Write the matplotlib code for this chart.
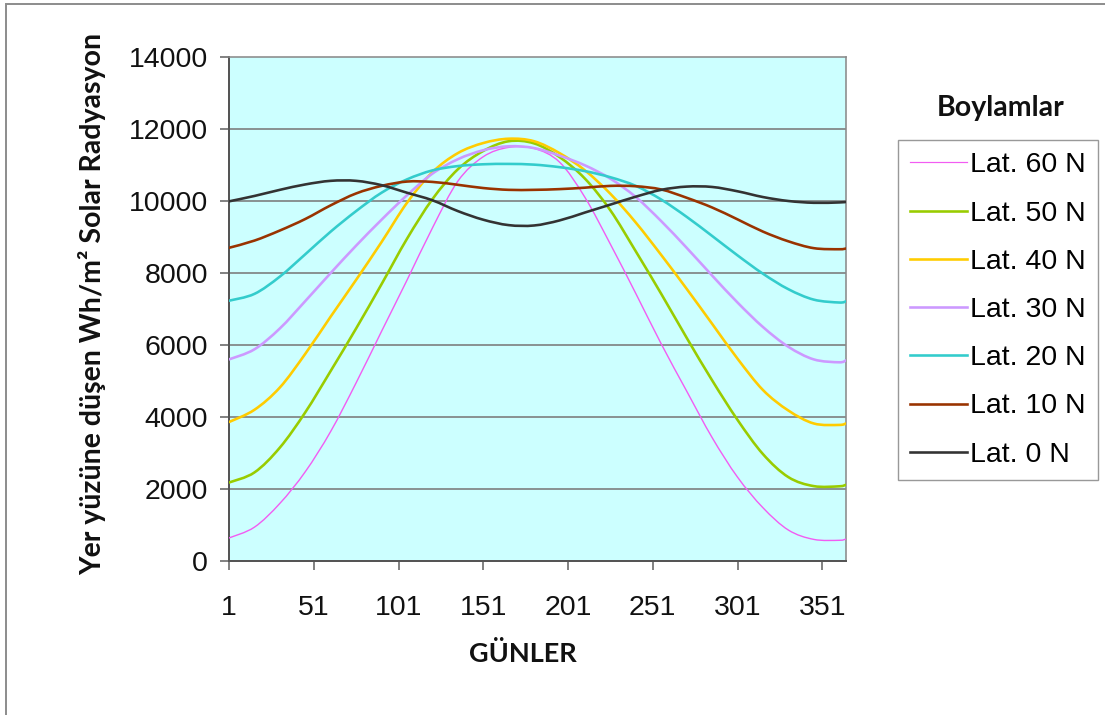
import matplotlib
matplotlib.use("Agg")
import matplotlib.pyplot as plt
from matplotlib.patches import Rectangle, PathPatch
from matplotlib.path import Path
from matplotlib.lines import Line2D

# Day of year samples
days = [1, 16, 31, 46, 61, 76, 91, 106, 121, 136, 151, 166, 181,
        196, 211, 226, 241, 256, 271, 286, 301, 316, 331, 346, 361, 365]

# Daily solar radiation (Wh/m2) per latitude
lat60 = [640, 940, 1600, 2480, 3600, 4950, 6380, 7800, 9250, 10550, 11230, 11490, 11460,
         11080, 10100, 8800, 7430, 6030, 4720, 3430, 2330, 1480, 860, 600, 575, 610]
lat50 = [2180, 2460, 3150, 4130, 5280, 6460, 7690, 8950, 10050, 10880, 11390, 11660, 11600,
         11220, 10620, 9740, 8600, 7420, 6200, 5020, 3920, 2970, 2330, 2080, 2075, 2117]
lat40 = [3860, 4200, 4820, 5755, 6790, 7810, 8860, 9950, 10800, 11330, 11610, 11730, 11660,
         11330, 10850, 10200, 9400, 8500, 7560, 6590, 5620, 4750, 4180, 3820, 3780, 3822]
lat30 = [5600, 5880, 6460, 7220, 8000, 8760, 9480, 10160, 10760, 11160, 11410, 11520, 11470,
         11260, 10990, 10620, 10110, 9440, 8700, 7930, 7180, 6500, 5950, 5600, 5520, 5574]
lat20 = [7230, 7420, 7900, 8520, 9150, 9720, 10230, 10600, 10850, 10970, 11020, 11030, 11010,
         10940, 10830, 10660, 10420, 10040, 9560, 9030, 8490, 7980, 7550, 7260, 7180, 7213]
lat10 = [8700, 8900, 9180, 9500, 9880, 10210, 10420, 10540, 10530, 10450, 10360, 10310, 10310,
         10330, 10370, 10420, 10410, 10320, 10090, 9820, 9490, 9150, 8880, 8690, 8660, 8680]
lat0 = [9990, 10140, 10310, 10460, 10560, 10560, 10440, 10230, 10020, 9720, 9480, 9330, 9320,
        9460, 9680, 9900, 10120, 10310, 10400, 10390, 10270, 10110, 10000, 9950, 9960, 9975]

series_labels = ["Lat. 60 N", "Lat. 50 N", "Lat. 40 N", "Lat. 30 N",
                 "Lat. 20 N", "Lat. 10 N", "Lat. 0 N"]
series_values = [lat60, lat50, lat40, lat30, lat20, lat10, lat0]
series_colors = ["#F25CF2", "#99CC00", "#FFCC00", "#CC99FF", "#33CCCC", "#993300", "#333333"]
series_widths = [1.4, 2.6, 2.6, 2.6, 2.6, 2.6, 2.6]   # pixels

x_ticks = [1, 51, 101, 151, 201, 251, 301, 351]
y_ticks = [0, 2000, 4000, 6000, 8000, 10000, 12000, 14000]


def smoothed_path(xs, ys):
    """Smoothed-line path (cubic Bezier segments through every point)."""
    pts = list(zip(xs, ys))
    n = len(pts)
    verts = [pts[0]]
    codes = [Path.MOVETO]
    for i in range(n - 1):
        p0 = pts[max(i - 1, 0)]
        p1 = pts[i]
        p2 = pts[i + 1]
        p3 = pts[min(i + 2, n - 1)]
        c1 = (p1[0] + (p2[0] - p0[0]) / 6.0, p1[1] + (p2[1] - p0[1]) / 6.0)
        c2 = (p2[0] - (p3[0] - p1[0]) / 6.0, p2[1] - (p3[1] - p1[1]) / 6.0)
        verts += [c1, c2, p2]
        codes += [Path.CURVE4, Path.CURVE4, Path.CURVE4]
    return Path(verts, codes)


W, H = 1105, 715
px = 0.72  # points per pixel at 100 dpi
fig = plt.figure(figsize=(W / 100, H / 100), dpi=100)
fig.patch.set_facecolor("white")

# chart-area border (left and top visible)
fig.add_artist(Rectangle((6 / W, -0.2), 1.2, 1 - 4 / H + 0.2, transform=fig.transFigure,
                         fill=False, edgecolor="#8c8c8c", linewidth=1.4))

ax = fig.add_axes([229 / W, 1 - 561 / H, (846 - 229) / W, (561 - 57) / H])
ax.set_facecolor("#CCFFFF")

handles = []
for vals, lab, col, lw in zip(series_values, series_labels, series_colors, series_widths):
    ax.add_patch(PathPatch(smoothed_path(days, vals), facecolor="none", edgecolor=col,
                           lw=lw * px, zorder=3, joinstyle="round", capstyle="round"))
    handles.append(Line2D([], [], color=col, lw=lw * px if lw > 2 else 1.2 * px, label=lab))

ax.set_xlim(1, 365)
ax.set_ylim(0, 14000)
ax.set_xticks(x_ticks)
ax.set_yticks(y_ticks)
ax.set_xticklabels([str(t) for t in x_ticks])
ax.set_yticklabels([str(t) for t in y_ticks])

for y in y_ticks[1:-1]:
    ax.axhline(y, color="#7a7a7a", lw=1.6 * px, zorder=1)

for side in ["left", "bottom"]:
    ax.spines[side].set_color("#555555")
    ax.spines[side].set_linewidth(2.0 * px)
for side in ["top", "right"]:
    ax.spines[side].set_color("#8a8a8a")
    ax.spines[side].set_linewidth(1.6 * px)

ax.tick_params(axis="both", direction="out", length=9 * px, width=1.6 * px, color="#666666")
ax.tick_params(axis="x", pad=25 * px)
ax.tick_params(axis="y", pad=12 * px)
for lbl in ax.get_xticklabels() + ax.get_yticklabels():
    lbl.set_fontfamily("Liberation Sans")
    lbl.set_fontsize(20.5)
    lbl.set_color("#111111")

# axis titles
fig.text(523 / W, 1 - 653 / H, "GÜNLER", ha="center", va="center",
         fontfamily="Lato", fontweight="bold", fontsize=19.5, color="#111111")
fig.text(92 / W, 1 - 304 / H, "Yer yüzüne düşen Wh/m² Solar Radyasyon", ha="center",
         va="center", rotation=90, fontfamily="Lato", fontweight="bold", fontsize=20.5,
         color="#111111")

# legend with its title above the box
fig.text(1001 / W, 1 - 108 / H, "Boylamlar", ha="center", va="center",
         fontfamily="Lato", fontweight="bold", fontsize=20.5, color="#111111")
leg = ax.legend(handles=handles, loc="upper left", bbox_to_anchor=(898 / W, 1 - 140.5 / H),
                bbox_transform=fig.transFigure, borderaxespad=0, frameon=True,
                fancybox=False, prop=dict(family="Liberation Sans", size=20.5),
                handlelength=2.0, handletextpad=0.12, labelspacing=0.78,
                borderpad=0.42)
leg.get_frame().set_edgecolor("#808080")
leg.get_frame().set_linewidth(1.4 * px)

fig.savefig("out.png", dpi=100, facecolor="white")
